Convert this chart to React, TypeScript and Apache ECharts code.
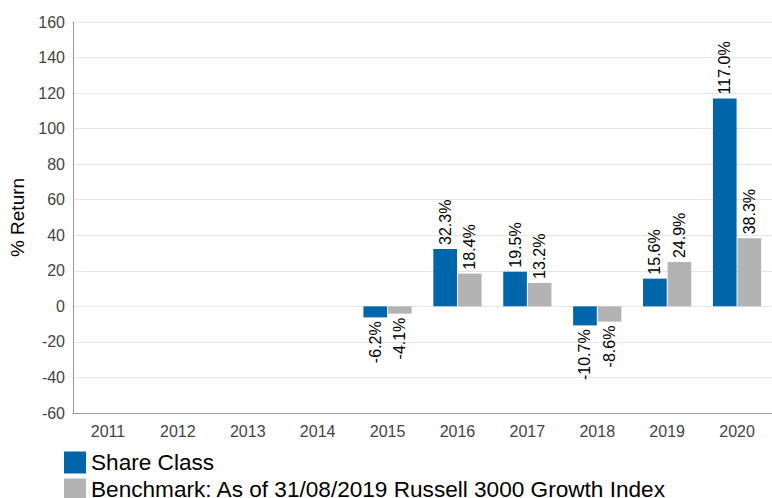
import React, { useEffect, useRef } from "react";
import * as echarts from "echarts";

const categories = ["2011", "2012", "2013", "2014", "2015", "2016", "2017", "2018", "2019", "2020"];
const shareClass: (number | null)[] = [null, null, null, null, -6.2, 32.3, 19.5, -10.7, 15.6, 117.0];
const benchmark: (number | null)[] = [null, null, null, null, -4.1, 18.4, 13.2, -8.6, 24.9, 38.3];
const seriesNames = ["Share Class", "Benchmark: As of 31/08/2019 Russell 3000 Growth Index"];

const FONT = "'Liberation Sans', Arial, sans-serif";

function toData(values: (number | null)[]) {
  return values.map((v) => {
    if (v === null) return null;
    const neg = v < 0;
    return {
      value: v,
      label: {
        show: true,
        position: neg ? "bottom" : "top",
        rotate: 90,
        align: neg ? "right" : "left",
        verticalAlign: "middle",
        distance: 4,
      },
    };
  });
}

export default function App() {
  const ref = useRef<HTMLDivElement>(null);
  useEffect(() => {
    if (!ref.current) return;
    const chart = echarts.init(ref.current, null, { renderer: "svg" });
    const labelBase = {
      show: true,
      color: "#000",
      fontSize: 16,
      fontFamily: FONT,
      formatter: (p: any) => Number(p.value).toFixed(1) + "%",
    };
    const legendBase = {
      orient: "vertical",
      left: 64,
      itemWidth: 22,
      itemHeight: 22,
      icon: "rect",
      padding: 0,
      textStyle: { fontSize: 22.6, color: "#000", fontFamily: FONT },
    };
    chart.setOption({
      animation: false,
      textStyle: { fontFamily: FONT },
      grid: { left: 72, right: 0, top: 22, bottom: 85, containLabel: false },
      legend: [
        { ...legendBase, top: 451, data: [seriesNames[0]] },
        { ...legendBase, top: 478, data: [seriesNames[1]] },
      ],
      xAxis: {
        type: "category",
        data: categories,
        axisLine: { onZero: false, lineStyle: { color: "#999" } },
        axisTick: { show: false },
        axisLabel: { fontSize: 16, color: "#444", fontFamily: FONT, margin: 10 },
      },
      yAxis: {
        type: "value",
        min: -60,
        max: 160,
        interval: 20,
        name: "% Return",
        nameLocation: "middle",
        nameGap: 46,
        nameTextStyle: { fontSize: 19, color: "#000", fontFamily: FONT },
        axisLine: { show: true, lineStyle: { color: "#999" } },
        axisTick: { show: false },
        axisLabel: { fontSize: 16, color: "#444", fontFamily: FONT, margin: 8 },
        splitLine: { lineStyle: { color: "#e6e6e6" } },
      },
      series: [
        {
          name: seriesNames[0],
          type: "bar",
          data: toData(shareClass),
          itemStyle: { color: "#0066aa" },
          barGap: "4%",
          barCategoryGap: "31%",
          label: labelBase,
        },
        {
          name: seriesNames[1],
          type: "bar",
          data: toData(benchmark),
          itemStyle: { color: "#b3b3b3" },
          barGap: "4%",
          barCategoryGap: "31%",
          label: labelBase,
        },
      ],
    });
    return () => chart.dispose();
  }, []);
  return <div ref={ref} style={{ width: 772, height: 498, position: "absolute", left: 0, top: 0 }} />;
}
